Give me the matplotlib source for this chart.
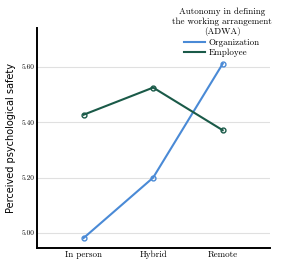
import matplotlib
matplotlib.use("Agg")
import matplotlib.pyplot as plt

plt.rcParams['font.family'] = ['cmr10', 'DejaVu Serif']
plt.rcParams['axes.formatter.use_mathtext'] = True

conditions = ['In person', 'Hybrid', 'Remote']
organization = [4.982, 5.200, 5.611]
employee = [5.427, 5.525, 5.371]
yticks = [5.00, 5.20, 5.40, 5.60]

fig = plt.figure(figsize=(2.86, 2.65), dpi=100)
ax = fig.add_axes([37/286, 17/265, 233/286, 220/265])

x = range(len(conditions))
ax.plot(x, organization, color='#4a8ad6', lw=1.5, marker='o', ms=3.5,
        mfc='none', mew=1.0, label='Organization')
ax.plot(x, employee, color='#1a5a48', lw=1.5, marker='o', ms=3.5,
        mfc='none', mew=1.0, label='Employee')

ax.set_xlim(-0.67, 2.68)
ax.set_ylim(4.946, 5.74)
ax.set_xticks(list(x))
ax.set_xticklabels(conditions, fontsize=6.5)
ax.set_yticks(yticks)
ax.set_yticklabels(['%.2f' % v for v in yticks], fontsize=5.3)
ax.tick_params(length=0, pad=2)
ax.grid(axis='y', color='#e0e0e0', lw=0.8)
ax.set_axisbelow(True)
for s in ['top', 'right']:
    ax.spines[s].set_visible(False)
for s in ['left', 'bottom']:
    ax.spines[s].set_linewidth(1.4)
ax.set_ylabel('Perceived psychological safety', fontsize=7,
              family='DejaVu Sans', labelpad=4)

leg = ax.legend(title='Autonomy in defining\nthe working arrangement\n(ADWA)',
                loc='upper center', bbox_to_anchor=(222/286, 0.995),
                bbox_transform=fig.transFigure, frameon=False, fontsize=6.5,
                title_fontsize=6.5, handlelength=2.3, handletextpad=0.4,
                labelspacing=0.25, borderpad=0.2)
leg.get_title().set_multialignment('center')
for h in leg.legend_handles:
    h.set_marker('')

fig.savefig('out.png', dpi=100)
